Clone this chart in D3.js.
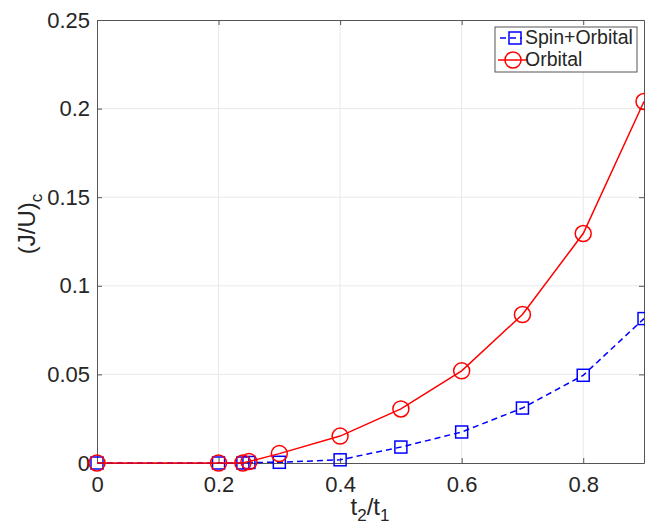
<!DOCTYPE html>
<html>
<head>
<meta charset="utf-8">
<script src="https://cdn.jsdelivr.net/npm/d3@7"></script>
<style>
  body { margin: 0; background: #fff; }
  text { font-family: "Liberation Sans", Arial, Helvetica, sans-serif; fill: #262626; }
</style>
</head>
<body>
<div id="chart"></div>
<script>
// ratio t2/t1 (both series sampled at the same points)
var ratios = [0, 0.2, 0.24, 0.25, 0.3, 0.4, 0.5, 0.6, 0.7, 0.8, 0.9];
var spinOrbital = [0, 0, 0, 0.0003, 0.0004, 0.0018, 0.009, 0.0175, 0.031, 0.0495, 0.0815];
var orbital = [0, 0, 0, 0.0008, 0.0053, 0.0152, 0.0305, 0.052, 0.0838, 0.1295, 0.204];
var xTicks = [0, 0.2, 0.4, 0.6, 0.8];
var yTicks = [0, 0.05, 0.1, 0.15, 0.2, 0.25];
var seriesNames = ["Spin+Orbital", "Orbital"];

var width = 645, height = 524;
var pLeft = 97, pRight = 644, pTop = 20, pBottom = 463;

var svg = d3.select("#chart").append("svg")
  .attr("width", width)
  .attr("height", height);

var x = d3.scaleLinear().domain([0, 0.9]).range([pLeft, pRight]);
var y = d3.scaleLinear().domain([0, 0.25]).range([pBottom, pTop]);

// grid
svg.append("g").selectAll("line")
  .data(xTicks.filter(function(d) { return d > 0; }))
  .enter().append("line")
  .attr("x1", function(d) { return x(d); })
  .attr("x2", function(d) { return x(d); })
  .attr("y1", pTop).attr("y2", pBottom)
  .attr("stroke", "#e8e8e8").attr("stroke-width", 1);

svg.append("g").selectAll("line")
  .data(yTicks.filter(function(d) { return d > 0 && d < 0.25; }))
  .enter().append("line")
  .attr("y1", function(d) { return y(d); })
  .attr("y2", function(d) { return y(d); })
  .attr("x1", pLeft).attr("x2", pRight)
  .attr("stroke", "#e8e8e8").attr("stroke-width", 1);

// axes
var xAxis = d3.axisBottom(x).tickValues(xTicks).tickSizeInner(-5).tickSizeOuter(0)
  .tickPadding(13).tickFormat(function(d) { return d3.format("")(d); });
var yAxis = d3.axisLeft(y).tickValues(yTicks).tickSizeInner(-5).tickSizeOuter(0)
  .tickPadding(7).tickFormat(function(d) { return d3.format("")(d); });

var gx = svg.append("g").attr("transform", "translate(0," + pBottom + ")").call(xAxis);
var gy = svg.append("g").attr("transform", "translate(" + pLeft + ",0)").call(yAxis);
var gTop = svg.append("g").attr("transform", "translate(0," + pTop + ")")
  .call(d3.axisTop(x).tickValues(xTicks).tickSizeInner(-5).tickSizeOuter(0).tickFormat(""));
var gRight = svg.append("g").attr("transform", "translate(" + pRight + ",0)")
  .call(d3.axisRight(y).tickValues(yTicks).tickSizeInner(-5).tickSizeOuter(0).tickFormat(""));

[gx, gy, gTop, gRight].forEach(function(g) {
  g.select(".domain").attr("stroke", "#555");
  g.selectAll(".tick line").attr("stroke", "#555");
  g.selectAll("text").style("font-size", "22px").attr("fill", "#262626")
    .style("font-family", "'Liberation Sans', Arial, sans-serif");
});
gx.selectAll("text").attr("dy", "0.71em");

// axis labels
var xl = svg.append("text").attr("x", 370).attr("y", 515)
  .attr("text-anchor", "middle").style("font-size", "24px");
xl.append("tspan").text("t");
xl.append("tspan").attr("dy", 6).style("font-size", "17px").text("2");
xl.append("tspan").attr("dy", -6).text("/t");
xl.append("tspan").attr("dy", 6).style("font-size", "17px").text("1");

var yl = svg.append("text")
  .attr("transform", "translate(35," + 224 + ") rotate(-90)")
  .attr("text-anchor", "middle").style("font-size", "24px");
yl.append("tspan").text("(J/U)");
yl.append("tspan").attr("dy", 7).style("font-size", "17px").text("c");

var lineGen = function(vals) {
  return d3.line()
    .x(function(d, i) { return x(ratios[i]); })
    .y(function(d) { return y(d); })(vals);
};

var plot = svg.append("g");

// blue: spin+orbital
plot.append("path").attr("d", lineGen(spinOrbital))
  .attr("fill", "none").attr("stroke", "#0000ff").attr("stroke-width", 1.5)
  .attr("stroke-dasharray", "6,4");
plot.append("g").selectAll("rect").data(spinOrbital).enter().append("rect")
  .attr("x", function(d, i) { return x(ratios[i]) - 6; })
  .attr("y", function(d) { return y(d) - 6; })
  .attr("width", 12).attr("height", 12)
  .attr("fill", "none").attr("stroke", "#0000ff").attr("stroke-width", 1.5);

// red: orbital
plot.append("path").attr("d", lineGen(orbital))
  .attr("fill", "none").attr("stroke", "#ff0000").attr("stroke-width", 1.5);
plot.append("g").selectAll("circle").data(orbital).enter().append("circle")
  .attr("cx", function(d, i) { return x(ratios[i]); })
  .attr("cy", function(d) { return y(d); })
  .attr("r", 8)
  .attr("fill", "none").attr("stroke", "#ff0000").attr("stroke-width", 1.5);

// legend
var lg = svg.append("g");
lg.append("rect").attr("x", 495).attr("y", 27).attr("width", 142).attr("height", 45)
  .attr("fill", "#fff").attr("stroke", "#555").attr("stroke-width", 1);

lg.append("line").attr("x1", 500).attr("x2", 522).attr("y1", 38).attr("y2", 38)
  .attr("stroke", "#0000ff").attr("stroke-width", 1.5).attr("stroke-dasharray", "6,4");
lg.append("rect").attr("x", 509).attr("y", 32).attr("width", 12).attr("height", 12)
  .attr("fill", "none").attr("stroke", "#0000ff").attr("stroke-width", 1.5);
lg.append("line").attr("x1", 498).attr("x2", 528).attr("y1", 60).attr("y2", 60)
  .attr("stroke", "#ff0000").attr("stroke-width", 1.5);
lg.append("circle").attr("cx", 513).attr("cy", 60).attr("r", 8)
  .attr("fill", "none").attr("stroke", "#ff0000").attr("stroke-width", 1.5);

lg.selectAll("text.lab").data(seriesNames).enter().append("text")
  .attr("class", "lab")
  .attr("x", 525)
  .attr("y", function(d, i) { return 44 + i * 22; })
  .style("font-size", "19.5px")
  .text(function(d) { return d; });
</script>
</body>
</html>
